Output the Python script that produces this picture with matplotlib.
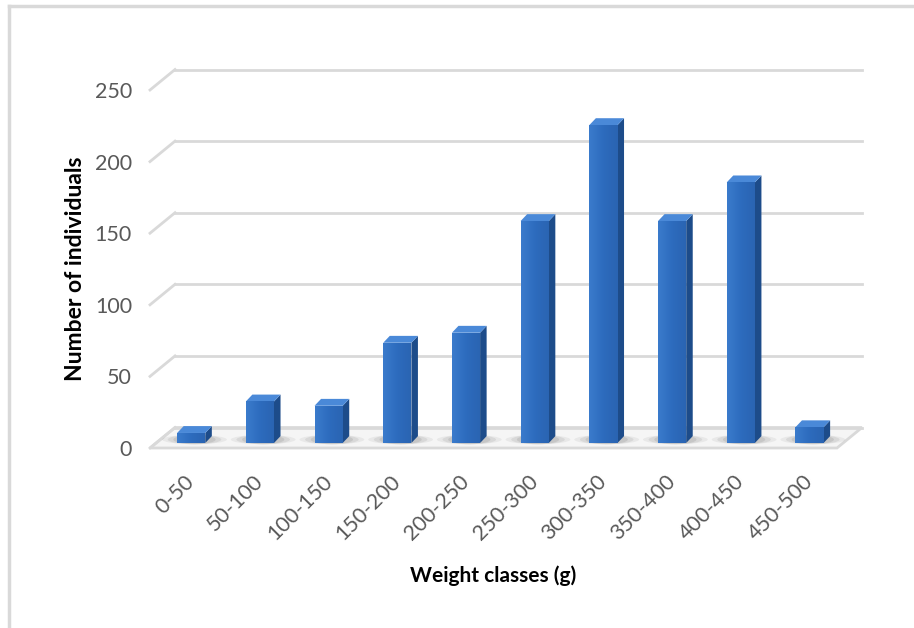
import numpy as np
import matplotlib.pyplot as plt
from matplotlib.patches import Polygon, Ellipse
from matplotlib.lines import Line2D
from matplotlib.colors import LinearSegmentedColormap

plt.rcParams['font.family'] = ['Lato', 'DejaVu Sans']

# weight class histogram
classes = ['0-50', '50-100', '100-150', '150-200', '200-250',
           '250-300', '300-350', '350-400', '400-450', '450-500']
counts = [7, 29, 26, 70, 77, 155, 222, 155, 182, 11]
yticks = [0, 50, 100, 150, 200, 250]

# pseudo-3D geometry (category units / value units)
depth_x, depth_y = 0.364, 14.3      # back wall offset
bar_off_x, bar_off_y = 0.10, 3.5    # bar front face set back from floor edge
bar_w = 0.41
bar_dx, bar_dy = 0.095, 4.8         # bar depth

front_cmap = LinearSegmentedColormap.from_list('front', ['#3a7bcc', '#2d6bbd', '#2a64b2'])
top_c = '#4a89d8'
side_c = '#1d4c8a'
grid_c = '#d9d9d9'

fig = plt.figure(figsize=(9.14, 6.28), dpi=100)
ax = fig.add_axes([150 / 914, 180 / 628, 687 / 914, 358 / 628])
ax.set_xlim(-0.5, 9.5)
ax.set_ylim(0, 250)
for s in ax.spines.values():
    s.set_visible(False)

n = len(classes)
x0, x1 = -0.5, n - 0.5

# floor
floor = Polygon([(x0, 0), (x1, 0), (x1 + depth_x, depth_y), (x0 + depth_x, depth_y)],
                closed=True, facecolor='#f5f5f5', edgecolor=grid_c, lw=2,
                clip_on=False, zorder=1)
ax.add_patch(floor)

# gridlines on the back wall plus the slanted side-wall lines
for v in yticks:
    ax.add_line(Line2D([x0 + depth_x, x1 + depth_x], [v + depth_y, v + depth_y],
                       color=grid_c, lw=2, clip_on=False, zorder=1))
    ax.add_line(Line2D([x0, x0 + depth_x], [v, v + depth_y],
                       color=grid_c, lw=2, clip_on=False, zorder=1))

grad = np.linspace(0, 1, 32).reshape(1, -1)

# bars with soft shadows
for i, c in enumerate(counts):
    xl = i - bar_w / 2 + bar_off_x
    xr = xl + bar_w
    yb = bar_off_y
    yt = yb + c
    for k, a in zip([2.3, 1.9, 1.5], [0.10, 0.14, 0.18]):
        ax.add_patch(Ellipse((i + bar_off_x + bar_dx / 2, yb + bar_dy / 2),
                             bar_w * k, 6.5, facecolor='#777777', alpha=a,
                             edgecolor='none', clip_on=False, zorder=2))
    face = Polygon([(xl, yb), (xr, yb), (xr, yt), (xl, yt)],
                   facecolor='#2f6ec0', edgecolor='none', clip_on=False, zorder=3)
    ax.add_patch(face)
    img = ax.imshow(grad, cmap=front_cmap, extent=[xl, xr, yb, yt],
                    aspect='auto', zorder=3.1, interpolation='bilinear')
    img.set_clip_path(face)
    ax.add_patch(Polygon([(xr, yb), (xr + bar_dx, yb + bar_dy),
                          (xr + bar_dx, yt + bar_dy), (xr, yt)],
                         facecolor=side_c, edgecolor='none', clip_on=False, zorder=3))
    ax.add_patch(Polygon([(xl, yt), (xr, yt), (xr + bar_dx, yt + bar_dy),
                          (xl + bar_dx, yt + bar_dy)],
                         facecolor=top_c, edgecolor='none', clip_on=False, zorder=3))

ax.set_xlim(-0.5, 9.5)
ax.set_ylim(0, 250)
ax.set_yticks(yticks)
ax.set_yticklabels([str(v) for v in yticks], fontsize=15.5, color='#595959')
ax.set_xticks(range(n))
ax.set_xticklabels(classes, rotation=45, ha='right', rotation_mode='anchor',
                   fontsize=15.5, color='#595959')
ax.tick_params(axis='y', length=0, pad=13)
ax.tick_params(axis='x', length=0, pad=17)

fig.text(75 / 914, 1 - 269 / 628, 'Number of individuals', rotation=90,
         ha='center', va='center', fontsize=16.5, fontweight='bold', color='black')
fig.text(493 / 914, 1 - 576 / 628, 'Weight classes (g)', ha='center',
         va='center', fontsize=15, fontweight='bold', color='black')

# chart frame (left and top edges)
fig.add_artist(Line2D([8.5 / 914, 8.5 / 914], [0, 1 - 6 / 628],
                      transform=fig.transFigure, color=grid_c, lw=2.5))
fig.add_artist(Line2D([8.5 / 914, 1], [1 - 6 / 628, 1 - 6 / 628],
                      transform=fig.transFigure, color=grid_c, lw=2.5))

fig.savefig('out.png', dpi=100)
